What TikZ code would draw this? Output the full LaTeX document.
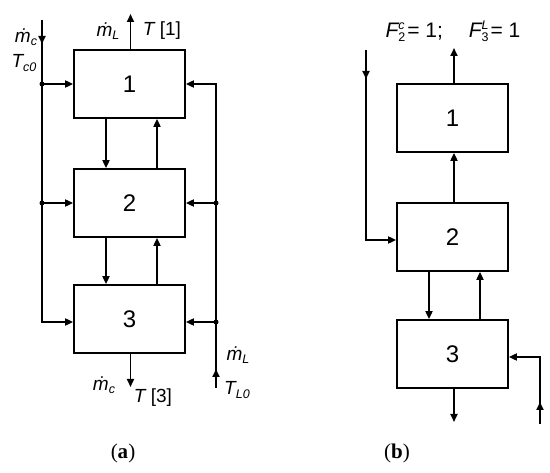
\documentclass[tikz,border=0pt]{standalone}
\usepackage{fontspec}
\setmainfont{Liberation Sans}
\newfontfamily\capfont{Liberation Serif}
\usetikzlibrary{arrows.meta}
\newcommand\sbs[1]{\raisebox{-0.35ex}{\fontsize{12.5}{12.5}\selectfont #1}}
\newcommand\sps[1]{\raisebox{0.7ex}{\fontsize{12.5}{12.5}\selectfont #1}}
\newcommand\stk[2]{\makebox[0.42em][l]{\sps{#1}}\hspace{-0.42em}\makebox[0.42em][l]{\sbs{#2}}}
\begin{document}
\begin{tikzpicture}[x=1pt,y=-1pt,line width=1.7pt,
  box/.style={draw, minimum width=111pt, minimum height=68pt, inner sep=0pt, font=\fontsize{24}{24}\selectfont},
  arr/.style={-{Triangle[length=8pt,width=7pt]}},
  lbl/.style={font=\fontsize{19}{19}\selectfont\itshape, inner sep=0pt},
  captxt/.style={font=\fontsize{21}{21}\selectfont\capfont, inner sep=0pt},
  jdot/.style={circle, fill, inner sep=0pt, minimum size=5pt}]
\useasboundingbox (0,0) rectangle (550,473);
% ---------- panel (a) ----------
\node[box] (a1) at (129.5,84) {1};
\node[box] (a2) at (129.5,203) {2};
\node[box] (a3) at (129.5,319) {3};
% interior streams
\draw[arr] ([xshift=-23.5pt]a1.south) -- ([xshift=-23.5pt]a2.north);
\draw[arr] ([xshift=27.5pt]a2.north) -- ([xshift=27.5pt]a1.south);
\draw[arr] ([xshift=-23.5pt]a2.south) -- ([xshift=-23.5pt]a3.north);
\draw[arr] ([xshift=27.5pt]a3.north) -- ([xshift=27.5pt]a2.south);
% outlets
\coordinate (aTop) at (130.5,14);
\coordinate (aBot) at (130.5,387);
\draw[arr] (a1.north -| aTop) -- (aTop);
\draw[arr] (a3.south -| aBot) -- (aBot);
% left feed line
\coordinate (L0) at (42,20);
\coordinate (Lm) at (42,44);
\coordinate (L1) at (42,84);
\coordinate (L2) at (42,203);
\coordinate (L3) at (42,322);
\draw[arr] (L0) -- (Lm);
\draw[arr] (L0) -- (L3) -- (L3 -| a3.west);
\draw[arr] (L1) -- (L1 -| a1.west);
\draw[arr] (L2) -- (L2 -| a2.west);
\node[jdot] (dL1) at (L1) {};
\node[jdot] (dL2) at (L2) {};
% right feed line
\coordinate (R4) at (216,388);
\coordinate (Rm) at (216,369);
\coordinate (R1) at (216,84);
\coordinate (R2) at (216,203);
\coordinate (R3) at (216,322);
\draw[arr] (R4) -- (Rm);
\draw[arr] (R4) -- (R1) -- (R1 -| a1.east);
\draw[arr] (R2) -- (R2 -| a2.east);
\draw[arr] (R3) -- (R3 -| a3.east);
\node[jdot] (dR2) at (R2) {};
\node[jdot] (dR3) at (R3) {};
% labels (a)
\node[lbl] (tmc) at (26,37) {ṁ\sbs{c}};
\node[lbl] (tTc) at (24,63) {T\sbs{c0}};
\node[lbl] (tmL) at (108,31) {ṁ\sbs{L}};
\node[lbl] (tT1) at (162,31) {T \upshape[1]};
\node[lbl] (bmc) at (104,385) {ṁ\sbs{c}};
\node[lbl] (bT3) at (153,398) {T \upshape[3]};
\node[lbl] (bmL) at (238,355) {ṁ\sbs{L}};
\node[lbl] (bTL) at (237,390) {T\sbs{L0}};
\node[captxt] (capa) at (123,453) {(\textbf{a})};
% ---------- panel (b) ----------
\node[box] (b1) at (452.5,118) {1};
\node[box] (b2) at (452.5,237) {2};
\node[box] (b3) at (452.5,354) {3};
\coordinate (bTop) at (454,48);
\coordinate (bBot) at (454,422);
\draw[arr] (b1.north -| bTop) -- (bTop);
\draw[arr] (b3.south -| bBot) -- (bBot);
\draw[arr] (b2.north -| bTop) -- (b1.south -| bTop);
\draw[arr] ([xshift=-23.5pt]b2.south) -- ([xshift=-23.5pt]b3.north);
\draw[arr] ([xshift=27.5pt]b3.north) -- ([xshift=27.5pt]b2.south);
\coordinate (bL0) at (366,50);
\coordinate (bLm) at (366,79);
\coordinate (bL1) at (366,240);
\draw[arr] (bL0) -- (bLm);
\draw[arr] (bL0) -- (bL1) -- (bL1 -| b2.west);
\coordinate (bR0) at (540,424);
\coordinate (bRm) at (540,402);
\coordinate (bR1) at (540,357);
\draw[arr] (bR0) -- (bRm);
\draw[arr] (bR0) -- (bR1) -- (bR1 -| b3.east);
\node[font=\fontsize{21}{21}\selectfont, inner sep=0pt] (flab) at (453,31)
  {\itshape F\upshape\stk{\itshape c}{2}= 1;\hspace{26pt}\itshape F\upshape\stk{\itshape L}{3}= 1};
\node[captxt] (capb) at (397,453) {(\textbf{b})};
\end{tikzpicture}
\end{document}
